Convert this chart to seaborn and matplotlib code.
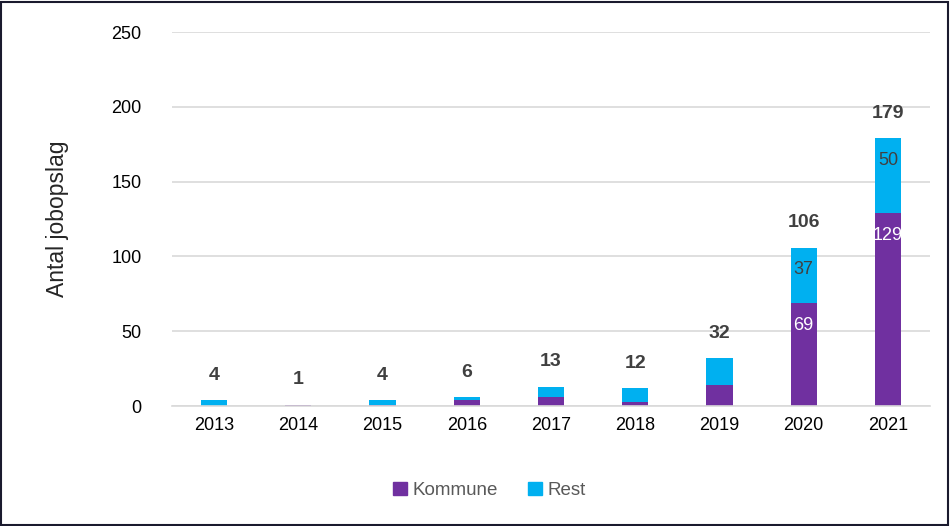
import numpy as np
import pandas as pd
import matplotlib.pyplot as plt
import seaborn as sns
from matplotlib.patches import Rectangle, Patch

# ---------------------- data ----------------------
years = ["2013", "2014", "2015", "2016", "2017", "2018", "2019", "2020", "2021"]
kommune = [0, 1, 1, 4, 6, 3, 14, 69, 129]
rest = [4, 0, 3, 2, 7, 9, 18, 37, 50]
totals = [k + r for k, r in zip(kommune, rest)]
# segment labels are only shown on the big bars
labelled_years = ["2020", "2021"]

PURPLE = "#7030A0"
BLUE = "#00B0F0"
TEXT = "#404040"

sns.set_style("white")
plt.rcParams['font.family'] = ['Liberation Sans', 'DejaVu Sans']

df = pd.DataFrame({"year": years, "kommune": kommune, "rest": rest, "total": totals})

fig = plt.figure(figsize=(9.5, 5.26), dpi=100)
ax = fig.add_axes([0.181, 0.228, 0.798, 0.711])

# stacked look: total bar in blue, kommune bar drawn over it
sns.barplot(data=df, x="year", y="total", color=BLUE, width=0.31, ax=ax,
            saturation=1, linewidth=0)
sns.barplot(data=df, x="year", y="kommune", color=PURPLE, width=0.31, ax=ax,
            saturation=1, linewidth=0)

ax.set_ylim(0, 250)
ax.set_yticks(range(0, 251, 50))
ax.set_xlim(-0.5, len(years) - 0.5)
ax.yaxis.grid(True, color="#D9D9D9", linewidth=1.2)
ax.set_axisbelow(True)
for s in ["top", "right", "left"]:
    ax.spines[s].set_visible(False)
ax.spines["bottom"].set_color("#D9D9D9")
ax.spines["bottom"].set_linewidth(1.2)
ax.tick_params(axis="both", length=0, labelsize=13, colors="#000000")
ax.tick_params(axis="y", pad=22)
ax.tick_params(axis="x", pad=8)
ax.set_xlabel("")
ax.set_ylabel("Antal jobopslag", fontsize=16.5, labelpad=30)

# totals above the bars
for i, t in enumerate(totals):
    ax.annotate(str(t), (i, t), xytext=(0, 18), textcoords="offset points",
                ha="center", va="center", fontsize=14, fontweight="bold", color=TEXT)

# inside-end labels on 2020 and 2021
for i, y in enumerate(years):
    if y in labelled_years:
        ax.annotate(str(kommune[i]), (i, kommune[i]), xytext=(0, -16), textcoords="offset points",
                    ha="center", va="center", fontsize=13, color="white")
        ax.annotate(str(rest[i]), (i, totals[i]), xytext=(0, -16), textcoords="offset points",
                    ha="center", va="center", fontsize=13, color=TEXT)

handles = [Patch(color=PURPLE, label="Kommune"), Patch(color=BLUE, label="Rest")]
leg = fig.legend(handles=handles, loc="center", bbox_to_anchor=(0.515, 0.068), ncol=2,
                 frameon=False, fontsize=13.5, handlelength=0.75, handleheight=0.75,
                 handletextpad=0.3, columnspacing=1.6)
for txt in leg.get_texts():
    txt.set_color("#595959")

# outer frame
fig.patches.append(Rectangle((0.001, 0.001), 0.997, 0.996, transform=fig.transFigure,
                             fill=False, edgecolor="#1a1a2e", linewidth=1.5))

fig.savefig("out.png", dpi=100)
